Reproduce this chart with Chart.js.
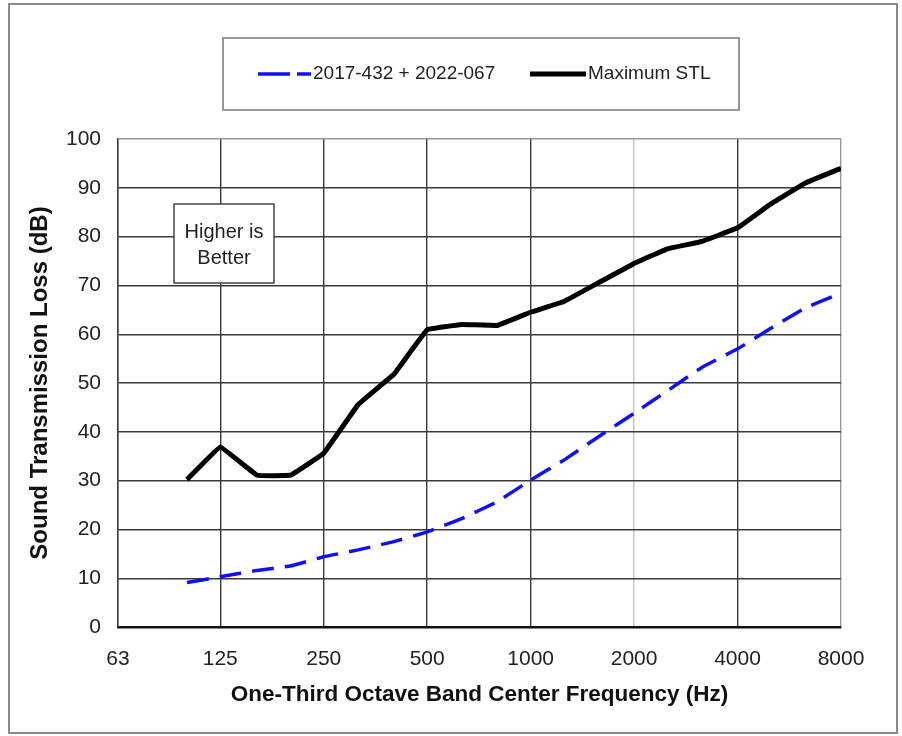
<!DOCTYPE html>
<html>
<head>
<meta charset="utf-8">
<script src="https://cdn.jsdelivr.net/npm/chart.js@4"></script>
<style>
  body { margin: 0; background: #fff; }
  canvas { display: block; }
</style>
</head>
<body>
<canvas id="stl-chart" width="902" height="736"></canvas>
<script>
// one-third octave band centres (Hz)
const freqs = [100, 125, 160, 200, 250, 315, 400, 500, 630, 800, 1000, 1250, 1600, 2000, 2500, 3150, 4000, 5000, 6300, 8000];
const assemblyStl = [9.1, 10.3, 11.6, 12.5, 14.4, 15.8, 17.5, 19.5, 22.2, 25.7, 30.1, 34.2, 39.3, 43.8, 48.4, 53.2, 57.0, 61.2, 65.4, 68.4];
const maximumStl = [30.2, 36.9, 31.1, 31.1, 35.6, 45.6, 51.8, 60.9, 62.0, 61.8, 64.5, 66.7, 70.8, 74.5, 77.5, 79.0, 81.8, 86.7, 91.0, 94.0];
const xTicks = [63, 125, 250, 500, 1000, 2000, 4000, 8000];
const seriesLabels = ['2017-432 + 2022-067', 'Maximum STL'];
const noteLines = ['Higher is', 'Better'];

const FONT = "'Liberation Sans', Arial, sans-serif";

const framePlugin = {
    id: 'frameAndBoxes',
    beforeDraw(chart) {
        const ctx = chart.ctx;
        ctx.save();
        ctx.fillStyle = '#fff';
        ctx.fillRect(0, 0, chart.width, chart.height);
        ctx.strokeStyle = '#8a8a8a';
        ctx.lineWidth = 2;
        ctx.strokeRect(9, 4, 888, 729);
        ctx.restore();
    },
    afterDraw(chart) {
        const ctx = chart.ctx;
        ctx.save();
        // legend box
        ctx.strokeStyle = '#777';
        ctx.lineWidth = 1.5;
        ctx.strokeRect(223, 38, 516, 72);
        ctx.font = '19px ' + FONT;
        ctx.textBaseline = 'middle';
        ctx.fillStyle = '#222';
        const items = [{ x: 258, w: 53, dash: [32, 7] }, { x: 530, w: 56 }];
        chart.data.datasets.forEach((ds, i) => {
            const it = items[i];
            ctx.beginPath();
            ctx.strokeStyle = ds.borderColor;
            ctx.lineWidth = ds.borderWidth;
            ctx.setLineDash(it.dash || []);
            ctx.moveTo(it.x, 74);
            ctx.lineTo(it.x + it.w, 74);
            ctx.stroke();
            ctx.setLineDash([]);
            ctx.fillText(ds.label, it.x + it.w + 2, 74);
        });
        // note box
        ctx.fillStyle = '#fff';
        ctx.fillRect(174, 204, 100, 79);
        ctx.strokeStyle = '#444';
        ctx.lineWidth = 1.5;
        ctx.strokeRect(174, 204, 100, 79);
        ctx.fillStyle = '#222';
        ctx.font = '20px ' + FONT;
        ctx.textAlign = 'center';
        ctx.fillText(noteLines[0], 224, 232);
        ctx.fillText(noteLines[1], 224, 258);
        ctx.restore();
    }
};

const ctx = document.getElementById('stl-chart').getContext('2d');
new Chart(ctx, {
    type: 'line',
    data: {
        datasets: [{
            label: seriesLabels[0],
            data: freqs.map((f, i) => ({ x: f, y: assemblyStl[i] })),
            borderColor: '#1010f0',
            borderWidth: 3.5,
            borderDash: [22, 11],
            pointRadius: 0,
            tension: 0.1,
            fill: false
        }, {
            label: seriesLabels[1],
            data: freqs.map((f, i) => ({ x: f, y: maximumStl[i] })),
            borderColor: '#000',
            borderWidth: 5,
            pointRadius: 0,
            tension: 0.05,
            fill: false
        }]
    },
    options: {
        responsive: false,
        animation: false,
        layout: { padding: { top: 139, right: 61, left: 0, bottom: 0 } },
        scales: {
            x: {
                type: 'logarithmic',
                min: 63,
                max: 8000,
                afterBuildTicks: s => { s.ticks = xTicks.map(v => ({ value: v })); },
                afterFit: s => { s.height = 109; },
                ticks: {
                    autoSkip: false,
                    maxRotation: 0,
                    padding: 20,
                    color: '#222',
                    font: { family: FONT, size: 21 },
                    callback: v => String(v)
                },
                grid: {
                    drawTicks: false,
                    lineWidth: 1.4,
                    color: c => c.tick && c.tick.value === 2000 ? '#c4c4c4' : (c.tick && c.tick.value === 8000 ? '#999' : '#3a3a3a')
                },
                border: { color: '#111', width: 2.5 },
                title: {
                    display: true,
                    text: 'One-Third Octave Band Center Frequency (Hz)',
                    color: '#111',
                    font: { family: FONT, size: 22.5, weight: 'bold' },
                    padding: { top: 0, bottom: 28 }
                }
            },
            y: {
                min: 0,
                max: 100,
                afterFit: s => { s.width = 118; },
                ticks: {
                    stepSize: 10,
                    padding: 17,
                    color: '#222',
                    font: { family: FONT, size: 21 }
                },
                grid: {
                    drawTicks: false,
                    lineWidth: 1.4,
                    color: c => c.tick && c.tick.value === 100 ? '#999' : '#3a3a3a'
                },
                border: { color: '#3a3a3a', width: 1.4 },
                title: {
                    display: true,
                    text: 'Sound Transmission Loss (dB)',
                    color: '#111',
                    font: { family: FONT, size: 24, weight: 'bold' },
                    padding: { top: 26, bottom: 0 }
                }
            }
        },
        plugins: {
            legend: { display: false },
            tooltip: { enabled: false }
        }
    },
    plugins: [framePlugin]
});
</script>
</body>
</html>
